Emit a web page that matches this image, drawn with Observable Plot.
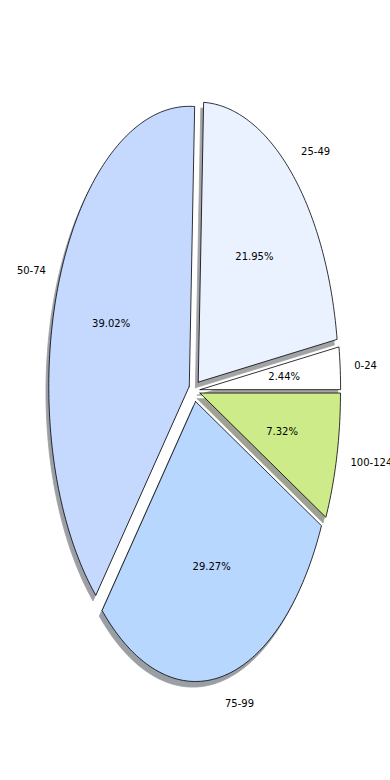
<!DOCTYPE html>
<html>
<head>
<meta charset="utf-8">
<script src="https://cdn.jsdelivr.net/npm/d3@7"></script>
<script src="https://cdn.jsdelivr.net/npm/@observablehq/plot@0.6"></script>
<style>
  html, body { margin: 0; padding: 0; background: #fff; }
</style>
</head>
<body>
<div id="chart"></div>
<script>
const labels = ["0-24", "25-49", "50-74", "75-99", "100-124"];
const counts = [1, 9, 16, 12, 3];
const colors = ["#ffffff", "#eaf2ff", "#c5d9ff", "#b7d7ff", "#ceeb8a"];
const explode = [0.04, 0.04, 0.04, 0.04, 0.04];

const total = d3.sum(counts);
const wedgePts = [];
const shadowPts = [];
const labelRows = [];
const pctRows = [];
let start = 0;
counts.forEach((v, i) => {
  const span = v / total * 360;
  const a1 = start, a2 = start + span, am = (a1 + a2) / 2;
  const rad = Math.PI / 180;
  const ox = explode[i] * Math.cos(am * rad);
  const oy = explode[i] * Math.sin(am * rad);
  const pts = [[ox, oy]];
  const steps = Math.max(2, Math.ceil(span));
  for (let k = 0; k <= steps; k++) {
    const a = (a1 + (a2 - a1) * k / steps) * rad;
    pts.push([ox + Math.cos(a), oy + Math.sin(a)]);
  }
  pts.push([ox, oy]);
  const sc = d3.rgb(colors[i]);
  const shadowColor = d3.rgb(sc.r * 0.3, sc.g * 0.3, sc.b * 0.3).formatHex();
  pts.forEach(([x, y]) => {
    wedgePts.push({key: labels[i], x, y, fill: colors[i]});
    shadowPts.push({key: labels[i], x: x - 0.02, y: y - 0.02, fill: shadowColor});
  });
  const lx = ox + 1.1 * Math.cos(am * rad), ly = oy + 1.1 * Math.sin(am * rad);
  labelRows.push({x: lx, y: ly, text: labels[i], anchor: lx > 0 ? "start" : "end"});
  const px = ox + 0.6 * Math.cos(am * rad), py = oy + 0.6 * Math.sin(am * rad);
  pctRows.push({x: px, y: py, text: (v / total * 100).toFixed(2) + "%"});
  start = a2;
});

const chart = Plot.plot({
  width: 390,
  height: 780,
  margin: 0,
  style: {fontFamily: "DejaVu Sans", fontSize: "10px", background: "#fff", overflow: "hidden"},
  x: {domain: [-194 / 140.5, 196 / 140.5], axis: null},
  y: {domain: [-390 / 280, 390 / 280], axis: null},
  color: {type: "identity"},
  marks: [
    Plot.line(shadowPts, {x: "x", y: "y", z: "key", fill: "fill", stroke: "fill", strokeWidth: 0.8, opacity: 0.5}),
    Plot.line(wedgePts, {x: "x", y: "y", z: "key", fill: "fill", stroke: "black", strokeWidth: 0.8, strokeLinejoin: "miter"}),
    Plot.text(pctRows, {x: "x", y: "y", text: "text", fill: "black", fontSize: 10, textAnchor: "middle", lineAnchor: "middle"}),
    Plot.text(labelRows.filter(d => d.anchor === "start"), {x: "x", y: "y", text: "text", fill: "black", fontSize: 10, textAnchor: "start", lineAnchor: "middle"}),
    Plot.text(labelRows.filter(d => d.anchor === "end"), {x: "x", y: "y", text: "text", fill: "black", fontSize: 10, textAnchor: "end", lineAnchor: "middle"})
  ]
});
document.getElementById("chart").appendChild(chart);
</script>
</body>
</html>
